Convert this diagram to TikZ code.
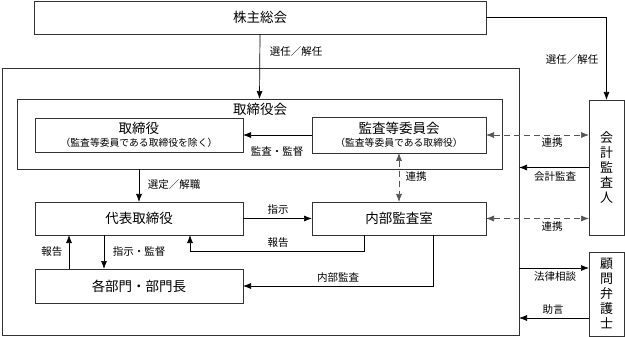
\documentclass[tikz,border=0pt]{standalone}
\usepackage{fontspec}
\setmainfont{Noto Sans CJK JP}
\usetikzlibrary{arrows.meta}
\definecolor{c333333}{RGB}{51,51,51}
\definecolor{c555555}{RGB}{85,85,85}
\def \bigfont {\fontsize{13.5}{15}\selectfont}
\def \smallfont {\fontsize{10.5}{12}\selectfont}
\def \subfont {\fontsize{9.8}{12}\selectfont}

\begin{document}
\begin{tikzpicture}[x=1pt, y=-1pt, inner sep=0pt, outer sep=0pt,
  box/.style={draw=c333333, fill=white, line width=0.7pt, font=\bigfont, align=center},
  vbox/.style={box, font=\fontsize{13}{15}\selectfont},
  lbl/.style={font=\smallfont},
  arr/.style={draw=black, line width=0.7pt, -{Latex[length=8pt,width=6pt]}},
  link/.style={draw=c555555, line width=0.7pt, dash pattern=on 6pt off 4pt, {Latex[length=8pt,width=6pt]}-{Latex[length=8pt,width=6pt]}}]
  \useasboundingbox (0,0) rectangle (625,337);

  % boxes
  \node[box, minimum width=452, minimum height=33] (kabunushi) at (260,17.5) {株主総会};
  \node[box, minimum width=517, minimum height=267] (company) at (260.5,201.5) {};
  \node[box, minimum width=485, minimum height=70] (board) at (259.5,134) {};
  \node[font=\bigfont] (boardtext) at (260,109) {取締役会};
  \node[box, minimum width=208, minimum height=34] (torishimari) at (139,135)
    {取締役\\[-2pt]{\subfont （監査等委員である取締役を除く）}};
  \node[box, minimum width=174, minimum height=36] (kansa) at (399,135)
    {監査等委員会\\[-2pt]{\subfont （監査等委員である取締役）}};
  \node[box, minimum width=208, minimum height=33] (daihyo) at (139,218.5) {代表取締役};
  \node[box, minimum width=174, minimum height=33] (naibu) at (399,218.5) {内部監査室};
  \node[box, minimum width=208, minimum height=34] (bumon) at (139,286) {各部門・部門長};
  \node[vbox, minimum width=35, minimum height=135] (kaikei) at (606.5,167.5) {会\\計\\監\\査\\人};
  \node[vbox, minimum width=35, minimum height=84] (komon) at (606.5,294) {顧\\問\\弁\\護\\士};

  % connectors
  \draw[arr] (kabunushi.south) -- (board.north);
  \draw[arr] (kabunushi.east) -| (kaikei.north);
  \draw[arr] (kansa.west) -- (torishimari.east);
  \draw[link] (kansa.east) -- (kansa.east -| kaikei.west);
  \draw[arr] (kaikei.west) -- (kaikei.west -| company.east);
  \draw[link] (kansa.south) -- (naibu.north);
  \draw[arr] (board.south -| daihyo.north) -- (daihyo.north);
  \draw[arr] (daihyo.east) -- (naibu.west);
  \draw[arr] ([xshift=-35pt]naibu.south) -- ++(0,16) -| ([xshift=51pt]daihyo.south);
  \draw[arr] ([xshift=34pt]naibu.south) |- (bumon.east);
  \draw[arr] ([xshift=-70pt]bumon.north) -- ([xshift=-70pt]daihyo.south);
  \draw[arr] ([xshift=-35pt]daihyo.south) -- ([xshift=-35pt]bumon.north);
  \draw[link] (naibu.east) -- (naibu.east -| kaikei.west);
  \coordinate (soudan) at ([yshift=26pt]komon.west);
  \coordinate (jogen) at ([yshift=-24pt]komon.west);
  \draw[arr] (soudan -| company.east) -- (soudan);
  \draw[arr] (jogen) -- (jogen -| company.east);

  % labels
  \node[lbl] (tsennin1) at (296,52) {選任／解任};
  \node[lbl] (tsennin2) at (572,60) {選任／解任};
  \node[lbl] (tkansa) at (277,152) {監査・監督};
  \node[lbl] (trenkei1) at (552,143) {連携};
  \node[lbl] (tkaikei) at (555,177) {会計監査};
  \node[lbl] (trenkei2) at (416,177) {連携};
  \node[lbl] (tsentei) at (174,185) {選定／解職};
  \node[lbl] (tshiji) at (278,210) {指示};
  \node[lbl] (thoukoku1) at (278,243) {報告};
  \node[lbl] (thoukoku2) at (52,252) {報告};
  \node[lbl] (tshijikan) at (139,252) {指示・監督};
  \node[lbl] (tnaibu) at (338,278) {内部監査};
  \node[lbl] (trenkei3) at (552,227) {連携};
  \node[lbl] (thouritsu) at (555,277) {法律相談};
  \node[lbl] (tjogen) at (553,310) {助言};
\end{tikzpicture}
\end{document}
